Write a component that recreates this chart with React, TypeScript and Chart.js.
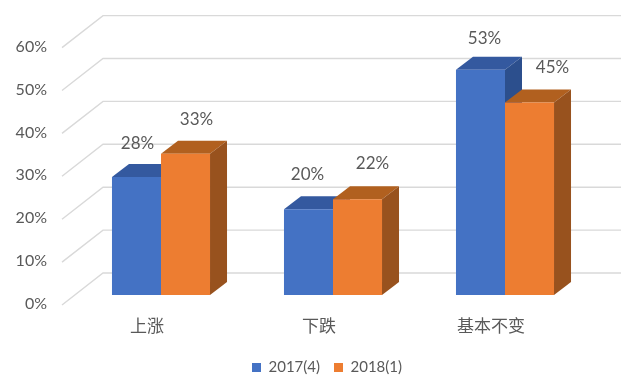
import React, { useEffect, useRef } from "react";
import { Chart, registerables } from "chart.js";

Chart.register(...registerables);

const categories = ["上涨", "下跌", "基本不变"];
const series2017 = [27.5, 20, 52.5];
const series2018 = [32.9, 22.3, 44.9];
const yTicks = [0, 10, 20, 30, 40, 50, 60];

const FONT = "Lato, 'Noto Sans CJK SC', sans-serif";
const TEXT = "#595959";
const GRID = "#D9D9D9";
const FACES = [
  { front: "#4472C4", top: "#34599F", side: "#2C4F8D" },
  { front: "#ED7D31", top: "#B1601F", side: "#98521E" },
];
const DEPTH = { x: 17, y: 13 };
const WALL = { fx: -13, fy: 10, bx: 28, by: -22, right: 621 };
const LABEL_NUDGE = [
  [[1, -34], [11, -34]],
  [[-1, -35], [15, -36]],
  [[4, -31], [23, -35]],
];

const face = (ctx: CanvasRenderingContext2D, color: string, pts: number[][]) => {
  ctx.fillStyle = color;
  ctx.beginPath();
  pts.forEach(([x, y], i) => (i ? ctx.lineTo(x, y) : ctx.moveTo(x, y)));
  ctx.closePath();
  ctx.fill();
};

const threeD = {
  id: "threeD",
  beforeDatasetsDraw(chart: any) {
    const ctx: CanvasRenderingContext2D = chart.ctx;
    const y = chart.scales.y;
    const left = chart.chartArea.left;
    ctx.save();
    ctx.strokeStyle = GRID;
    ctx.lineWidth = 1.4;
    yTicks.forEach((t) => {
      const py = y.getPixelForValue(t);
      ctx.beginPath();
      ctx.moveTo(left + WALL.fx, py + WALL.fy);
      ctx.lineTo(left + WALL.bx, py + WALL.by);
      ctx.lineTo(WALL.right, py + WALL.by);
      ctx.stroke();
    });
    chart.data.datasets.forEach((_: any, d: number) => {
      chart.getDatasetMeta(d).data.forEach((bar: any) => {
        const l = bar.x - bar.width / 2;
        const r = bar.x + bar.width / 2;
        const t = bar.y;
        const b = bar.base;
        face(ctx, FACES[d].top, [[l, t], [l + DEPTH.x, t - DEPTH.y], [r + DEPTH.x, t - DEPTH.y], [r, t]]);
        face(ctx, FACES[d].side, [[r, t], [r + DEPTH.x, t - DEPTH.y], [r + DEPTH.x, b - DEPTH.y], [r, b]]);
      });
    });
    ctx.restore();
  },
  afterDatasetsDraw(chart: any) {
    const ctx: CanvasRenderingContext2D = chart.ctx;
    ctx.save();
    ctx.fillStyle = TEXT;
    ctx.font = `17px ${FONT}`;
    ctx.textAlign = "center";
    ctx.textBaseline = "middle";
    chart.data.datasets.forEach((ds: any, d: number) => {
      chart.getDatasetMeta(d).data.forEach((bar: any, i: number) => {
        const [nx, ny] = LABEL_NUDGE[i][d];
        ctx.fillText(`${Math.round(ds.data[i])}%`, bar.x + nx, bar.y + ny);
      });
    });
    ctx.restore();
  },
};

export default function App() {
  const ref = useRef<HTMLCanvasElement>(null);
  useEffect(() => {
    const chart = new Chart(ref.current as HTMLCanvasElement, {
      type: "bar",
      data: {
        labels: categories,
        datasets: [
          { label: "2017(4)", data: series2017, backgroundColor: FACES[0].front, borderWidth: 0 },
          { label: "2018(1)", data: series2018, backgroundColor: FACES[1].front, borderWidth: 0 },
        ],
      },
      options: {
        responsive: false,
        animation: false,
        layout: { padding: { left: 15, right: 0, top: 29, bottom: 1 } },
        datasets: { bar: { categoryPercentage: 0.57, barPercentage: 1 } },
        plugins: {
          tooltip: { enabled: false },
          legend: {
            position: "bottom",
            labels: {
              boxWidth: 9,
              boxHeight: 9,
              padding: 14,
              color: TEXT,
              font: { family: FONT, size: 15 },
            },
          },
        },
        scales: {
          x: {
            grid: { display: false },
            border: { display: false },
            afterFit: (s: any) => { s.height = 51; },
            ticks: {
              color: TEXT,
              font: { family: FONT, size: 17 },
              padding: 13,
              labelOffset: -14,
              maxRotation: 0,
            },
          },
          y: {
            min: 0,
            max: 60,
            grid: { display: false, drawTicks: false },
            border: { display: false },
            afterFit: (s: any) => { s.width = 60; },
            afterBuildTicks: (s: any) => { s.ticks = yTicks.map((value) => ({ value })); },
            ticks: {
              color: TEXT,
              font: { family: FONT, size: 16 },
              padding: 28,
              labelOffset: 9,
              callback: (v: any) => `${v}%`,
            },
          },
          pad: {
            position: "right",
            display: true,
            grid: { display: false },
            border: { display: false },
            ticks: { display: false },
            afterFit: (s: any) => { s.width = 48; },
          },
        },
      } as any,
      plugins: [threeD],
    });
    return () => chart.destroy();
  }, []);
  return (
    <div style={{ position: "fixed", left: 0, top: 0, width: 639, height: 386, background: "#fff" }}>
      <canvas ref={ref} width={639} height={386} style={{ display: "block" }} />
    </div>
  );
}
